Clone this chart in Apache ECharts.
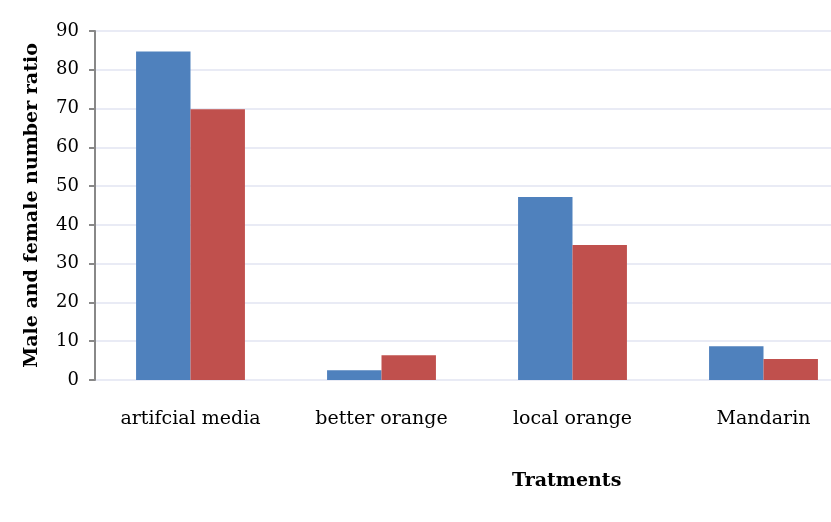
<!DOCTYPE html>
<html lang="en">
<head>
    <meta charset="UTF-8">
    <title>Male and female number ratio</title>
    <script src="https://cdn.jsdelivr.net/npm/echarts@6/dist/echarts.min.js"></script>
    <style type="text/css">
        *{
            margin: 0px;
            padding: 0px;
        }
        body{
            background-color: #fff;
            overflow: hidden;
        }
        /* the plot runs past the right edge of the picture, so the chart is wider than the window */
        #chart{
            width: 880px;
            height: 522px;
        }
    </style>
</head>
<body>
<div id="chart"></div>
<script type="text/javascript">
    // treatments on the x axis
    var categories = ['artifcial media', 'better orange', 'local orange', 'Mandarin'];
    // two series (no legend in the source)
    var blueValues = [84.7, 2.5, 47.2, 8.7];
    var redValues = [69.8, 6.4, 34.8, 5.4];
    var yTicks = {min: 0, max: 90, interval: 10};

    var font = '"DejaVu Serif", "Liberation Serif", serif';

    var myChart = echarts.init(document.getElementById('chart'));

    var option = {
        animation: false,
        grid: {
            left: 95,
            top: 31,
            width: 764,
            height: 349
        },
        xAxis: {
            type: 'category',
            data: categories,
            axisLine: {show: false},
            axisTick: {show: false},
            axisLabel: {
                margin: 30,
                fontFamily: font,
                fontSize: 19,
                color: '#000'
            }
        },
        yAxis: {
            type: 'value',
            min: yTicks.min,
            max: yTicks.max,
            interval: yTicks.interval,
            name: 'Male and female number ratio',
            nameLocation: 'middle',
            nameGap: 53,
            nameTextStyle: {
                fontFamily: font,
                fontSize: 19,
                fontWeight: 'bold',
                color: '#000'
            },
            axisLine: {
                show: true,
                lineStyle: {color: '#888', width: 2}
            },
            axisTick: {
                show: true,
                length: 6,
                lineStyle: {color: '#888', width: 2}
            },
            axisLabel: {
                margin: 16,
                fontFamily: font,
                fontSize: 18,
                color: '#000'
            },
            splitLine: {
                lineStyle: {color: '#e9ebf5', width: 2}
            }
        },
        graphic: [{
            type: 'text',
            left: 512,
            top: 472,
            style: {
                text: 'Tratments',
                font: 'bold 19px ' + font,
                fill: '#000'
            }
        }],
        series: [
            {
                type: 'bar',
                data: blueValues,
                barGap: '0%',
                barCategoryGap: '43%',
                itemStyle: {color: '#4f81bd'}
            },
            {
                type: 'bar',
                data: redValues,
                itemStyle: {color: '#c0504d'}
            }
        ]
    };
    myChart.setOption(option);
</script>
</body>
</html>
